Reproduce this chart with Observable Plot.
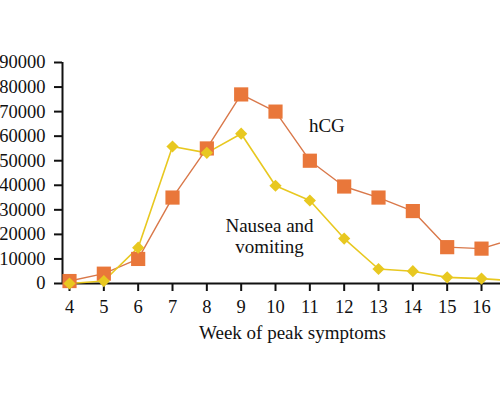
<!DOCTYPE html>
<html>
<head>
<meta charset="utf-8">
<script src="https://cdn.jsdelivr.net/npm/d3@7"></script>
<script src="https://cdn.jsdelivr.net/npm/@observablehq/plot@0.6"></script>
<style>
  body { margin: 0; background: #fff; }
</style>
</head>
<body>
<div id="chart_1"></div>
<script>
const weeks = [4, 5, 6, 7, 8, 9, 10, 11, 12, 13, 14, 15, 16, 17];
const hcg = [1000, 4000, 10000, 35000, 55000, 77000, 70000, 50000, 39500, 35000, 29500, 14800, 14200, 18500];
const nausea = [0, 1000, 14600, 55800, 53200, 61000, 39800, 33800, 18300, 5900, 5000, 2500, 2000, 1000];
const xTicks = [4, 5, 6, 7, 8, 9, 10, 11, 12, 13, 14, 15, 16];
const yTicks = [0, 10000, 20000, 30000, 40000, 50000, 60000, 70000, 80000, 90000];
const xLabel = "Week of peak symptoms";

const hcgData = weeks.map((w, i) => ({week: w, value: hcg[i]}));
const nauseaData = weeks.map((w, i) => ({week: w, value: nausea[i]}));

const orange = "#E9773A";
const yellow = "#E8C820";
const xDomain = [3.796, 16.553];

let chart = Plot.plot({
  width: 500,
  height: 400,
  marginLeft: 62,
  marginRight: 0,
  marginTop: 62,
  marginBottom: 117,
  style: {fontFamily: "Liberation Serif, serif", fontSize: "18px", color: "#111"},
  x: {domain: xDomain, label: null},
  y: {domain: [0, 90000], label: null},
  marks: [
    Plot.axisX({ticks: xTicks, tickSize: 8, tickPadding: 8, strokeWidth: 2, fontSize: 18.5, label: null}),
    Plot.axisY({ticks: yTicks, tickSize: 8, tickPadding: 9, strokeWidth: 2, fontSize: 18.5, tickFormat: "d", label: null}),
    Plot.ruleY([0], {strokeWidth: 2, stroke: "#111"}),
    Plot.ruleX([xDomain[0]], {y1: 0, y2: 90000, strokeWidth: 2, stroke: "#111"}),
    Plot.line(hcgData, {x: "week", y: "value", stroke: "#D9784A", strokeWidth: 1.4}),
    Plot.line(nauseaData, {x: "week", y: "value", stroke: yellow, strokeWidth: 1.6}),
    Plot.dot(hcgData, {x: "week", y: "value", symbol: "square", r: 8, fill: orange}),
    Plot.dot(nauseaData, {x: "week", y: "value", symbol: "diamond2", r: 5.5, fill: yellow}),
    Plot.text(hcgData.filter(d => d.week == 11), {
      x: "week", y: "value", text: d => "hCG", dx: 17, dy: -35,
      fontSize: 19, fill: "#111"
    }),
    Plot.text(nauseaData.filter(d => d.week == 10), {
      x: "week", y: "value", text: d => "Nausea and\nvomiting", dx: -6, dy: 50,
      lineHeight: 1.12, fontSize: 19, fill: "#111"
    }),
    Plot.text([xLabel], {
      frameAnchor: "bottom", dx: 11, dy: 55, fontSize: 19, fill: "#111"
    })
  ]
})

d3.select('#chart_1').append(() => chart)
</script>
</body>
</html>
